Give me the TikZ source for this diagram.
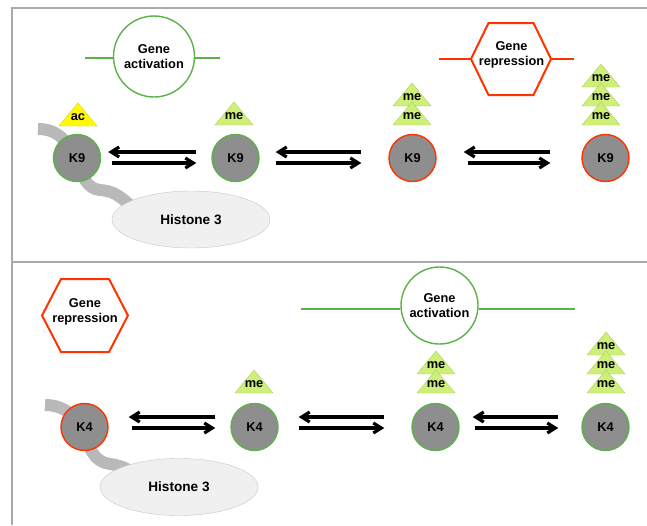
\documentclass[tikz,border=0pt]{standalone}
\usepackage{fontspec}
\setmainfont{Liberation Sans}
\usetikzlibrary{arrows.meta,shapes.geometric,backgrounds}
\definecolor{actgreen}{RGB}{92,178,72}
\definecolor{repred}{RGB}{255,51,0}
\definecolor{lysgray}{RGB}{142,142,142}
\definecolor{melime}{RGB}{206,240,120}
\definecolor{acyellow}{RGB}{255,250,0}
\definecolor{framegray}{RGB}{170,170,170}
\tikzstyle{lys} = [draw, circle, line width=1.4pt, fill=lysgray,
    minimum size=47pt, inner sep=0pt]
\tikzstyle{lysact} = [lys, draw=actgreen]
\tikzstyle{lysrep} = [lys, draw=repred]
\tikzstyle{actnode} = [draw=actgreen, circle, line width=1.4pt, fill=white,
    minimum size=81pt, inner sep=0pt, align=center]
\tikzstyle{repnode} = [inner sep=0pt, align=center]
\tikzstyle{hexline} = [draw=repred, line width=2pt, fill=white, line join=miter]
\tikzstyle{histone} = [draw=gray!45, ellipse, fill=gray!12,
    minimum width=158pt, minimum height=57pt, font=\fontsize{13.6}{16}\selectfont\bfseries]
\tikzstyle{tail} = [line width=12pt, color=gray!55]
\tikzstyle{actline} = [line width=2pt, actgreen]
\tikzstyle{repline} = [line width=2pt, repred]
\tikzstyle{flux} = [line width=3.2pt, -{Straight Barb[length=8pt,width=10pt]}]
\tikzstyle{tagtext} = [inner sep=0pt]
\tikzstyle{metri} = [fill=melime, draw=melime!85!black, line width=0.4pt]
\tikzstyle{actri} = [fill=acyellow, draw=acyellow!85!black, line width=0.4pt]
\tikzstyle{frame} = [line width=2pt, framegray]

\begin{document}
\begin{tikzpicture}[x=1pt, y=-1pt, font=\fontsize{12.8}{15}\selectfont\bfseries]
    \useasboundingbox (0,0) rectangle (647,525);
    % panel frame
    \draw [frame] (11.5,8) -- (647,8);
    \draw [frame] (11.5,262) -- (647,262);
    \draw [frame] (11.5,7) -- (11.5,525);

    % ---- H3K9 ----
    \node [lysact] (k9a) at (77,158) {K9};
    \node [lysact, right of=k9a, node distance=158.5pt] (k9b) {K9};
    \node [lysrep, right of=k9b, node distance=177pt] (k9c) {K9};
    \node [lysrep, right of=k9c, node distance=193pt] (k9d) {K9};
    \node [histone] (h3top) at (191,219.5) {Histone 3};
    \begin{pgfonlayer}{background}
        \draw [tail] (38,129) .. controls (54,129) and (64,136) .. (k9a.center)
            .. controls (82,178) and (88,189) .. (100,190)
            .. controls (112,191) and (118,194) .. (132,207);
    \end{pgfonlayer}

    \coordinate (actAl) at (85,58);
    \coordinate (actAr) at (220,58);
    \node [actnode] (actA) at (154,56.5) {Gene\\activation};
    \draw [actline] (actAl) -- (actAl -| actA.west);
    \draw [actline] (actAr -| actA.east) -- (actAr);

    \coordinate (repAl) at (439,59);
    \coordinate (repAr) at (574,59);
    \draw [hexline] (511.5,59) ++(-40.5,0) -- ++(17.5,-36) -- ++(45,0)
        -- ++(17.5,36) -- ++(-17.5,36) -- ++(-45,0) -- cycle;
    \node [repnode] (repA) at (511.5,54.5) {Gene\\repression};
    \draw [repline] (repAl) -- ++(32,0);
    \draw [repline] (repAr) -- ++(-22,0);

    \draw [actri] (59,126) -- (78,103) -- (97,126) -- cycle;
    \node [tagtext] (ac9) at (78,117.5) {ac};
    \foreach \n/\x/\b in {me9b/234/125, me9c2/412/106, me9c1/412/125,
        me9d3/601/87, me9d2/601/106, me9d1/601/125}{
        \draw [metri] (\x-19,\b) -- (\x,\b-23) -- (\x+19,\b) -- cycle;
        \node [tagtext] (\n) at (\x,\b-8.5) {me};
    }

    \draw [flux, shorten <=15pt, shorten >=7pt] ([yshift=6pt]k9b.west) -- ([yshift=6pt]k9a.east);
    \draw [flux, shorten <=11pt, shorten >=15pt] ([yshift=-5pt]k9a.east) -- ([yshift=-5pt]k9b.west);
    \draw [flux, shorten <=27pt, shorten >=16pt] ([yshift=6pt]k9c.west) -- ([yshift=6pt]k9b.east);
    \draw [flux, shorten <=16pt, shorten >=27pt] ([yshift=-5pt]k9b.east) -- ([yshift=-5pt]k9c.west);
    \draw [flux, shorten <=31pt, shorten >=27pt] ([yshift=6pt]k9d.west) -- ([yshift=6pt]k9c.east);
    \draw [flux, shorten <=31pt, shorten >=31pt] ([yshift=-5pt]k9c.east) -- ([yshift=-5pt]k9d.west);

    % ---- H3K4 ----
    \node [lysrep] (k4a) at (84.5,427) {K4};
    \node [lysact, right of=k4a, node distance=170pt] (k4b) {K4};
    \node [lysact, right of=k4b, node distance=181pt] (k4c) {K4};
    \node [lysact, right of=k4c, node distance=170pt] (k4d) {K4};
    \node [histone] (h3bot) at (179,487) {Histone 3};
    \begin{pgfonlayer}{background}
        \draw [tail] (45,405) .. controls (60,405) and (70,411) .. (k4a.center)
            .. controls (88,450) and (95,462) .. (110,464)
            .. controls (118,465) and (124,467) .. (132,472);
    \end{pgfonlayer}

    \draw [hexline] (85,315.5) ++(-43,0) -- ++(19,-36.5) -- ++(48,0)
        -- ++(19,36.5) -- ++(-19,36.5) -- ++(-48,0) -- cycle;
    \node [repnode] (repB) at (85,311.5) {Gene\\repression};

    \coordinate (actBl) at (301,309);
    \coordinate (actBr) at (575,309);
    \node [actnode, minimum size=77pt] (actB) at (439.5,305.5) {Gene\\activation};
    \draw [actline] (actBl) -- (actBl -| actB.west);
    \draw [actline] (actBr -| actB.east) -- (actBr);

    \foreach \n/\x/\b in {me4b/254/393, me4c2/436/374, me4c1/436/393,
        me4d3/606/355, me4d2/606/374, me4d1/606/393}{
        \draw [metri] (\x-19,\b) -- (\x,\b-23) -- (\x+19,\b) -- cycle;
        \node [tagtext] (\n) at (\x,\b-8.5) {me};
    }

    \draw [flux, shorten <=15pt, shorten >=20pt] ([yshift=10pt]k4b.west) -- ([yshift=10pt]k4a.east);
    \draw [flux, shorten <=23pt, shorten >=15pt] ([yshift=-1pt]k4a.east) -- ([yshift=-1pt]k4b.west);
    \draw [flux, shorten <=27pt, shorten >=20pt] ([yshift=10pt]k4c.west) -- ([yshift=10pt]k4b.east);
    \draw [flux, shorten <=20pt, shorten >=27pt] ([yshift=-1pt]k4b.east) -- ([yshift=-1pt]k4c.west);
    \draw [flux, shorten <=23pt, shorten >=13pt] ([yshift=10pt]k4d.west) -- ([yshift=10pt]k4c.east);
    \draw [flux, shorten <=15pt, shorten >=23pt] ([yshift=-1pt]k4c.east) -- ([yshift=-1pt]k4d.west);
\end{tikzpicture}
\end{document}
